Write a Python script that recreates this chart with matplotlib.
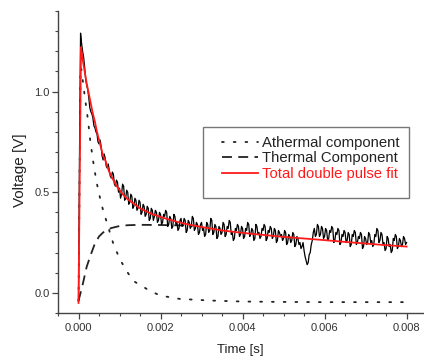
import numpy as np
import matplotlib
matplotlib.use("Agg")
import matplotlib.pyplot as plt
from matplotlib.patches import Rectangle
from matplotlib.ticker import MultipleLocator, FormatStrFormatter

plt.rcParams['font.family'] = ['Liberation Sans', 'DejaVu Sans']

# Measured signal, sampled every 25 us from 0 to 8 ms
t_data = np.linspace(0, 0.008, 321)
v_data = [
    -0.04, 0.70, 1.29, 1.24, 1.20, 1.17, 1.12, 1.06, 1.03, 1.01, 0.97, 0.92, 0.90, 0.89, 0.87, 0.83, 0.82, 0.80, 0.79, 0.75,
    0.74, 0.76, 0.73, 0.68, 0.66, 0.69, 0.67, 0.63, 0.62, 0.64, 0.61, 0.58, 0.57, 0.60, 0.59, 0.54, 0.53, 0.56, 0.55, 0.50,
    0.52, 0.47, 0.49, 0.54, 0.53, 0.46, 0.47, 0.51, 0.50, 0.44, 0.45, 0.49, 0.48, 0.42, 0.43, 0.47, 0.46, 0.41, 0.42, 0.46,
    0.45, 0.39, 0.40, 0.44, 0.43, 0.38, 0.39, 0.43, 0.42, 0.36, 0.37, 0.42, 0.41, 0.36, 0.38, 0.41, 0.40, 0.35, 0.36, 0.40,
    0.39, 0.34, 0.35, 0.39, 0.38, 0.41, 0.40, 0.33, 0.34, 0.38, 0.37, 0.32, 0.33, 0.39, 0.38, 0.34, 0.35, 0.31, 0.32, 0.36,
    0.37, 0.33, 0.34, 0.37, 0.36, 0.30, 0.31, 0.36, 0.35, 0.32, 0.33, 0.38, 0.37, 0.31, 0.32, 0.35, 0.34, 0.29, 0.30, 0.34,
    0.35, 0.31, 0.32, 0.28, 0.29, 0.35, 0.34, 0.30, 0.31, 0.37, 0.36, 0.29, 0.30, 0.34, 0.33, 0.27, 0.28, 0.33, 0.32, 0.29,
    0.30, 0.35, 0.34, 0.28, 0.29, 0.33, 0.32, 0.36, 0.35, 0.29, 0.30, 0.26, 0.27, 0.32, 0.31, 0.34, 0.33, 0.28, 0.29, 0.33,
    0.32, 0.27, 0.28, 0.32, 0.31, 0.35, 0.34, 0.28, 0.29, 0.32, 0.31, 0.26, 0.27, 0.34, 0.33, 0.29, 0.30, 0.27, 0.28, 0.32,
    0.31, 0.34, 0.33, 0.26, 0.27, 0.31, 0.30, 0.33, 0.32, 0.27, 0.28, 0.32, 0.31, 0.25, 0.26, 0.31, 0.30, 0.28, 0.29, 0.26,
    0.27, 0.31, 0.30, 0.24, 0.25, 0.29, 0.28, 0.25, 0.26, 0.30, 0.29, 0.23, 0.24, 0.28, 0.27, 0.24, 0.25, 0.22, 0.23, 0.25,
    0.21, 0.18, 0.16, 0.14, 0.15, 0.19, 0.20, 0.24, 0.26, 0.30, 0.32, 0.28, 0.29, 0.34, 0.33, 0.28, 0.29, 0.33, 0.32, 0.27,
    0.28, 0.32, 0.31, 0.26, 0.27, 0.31, 0.30, 0.33, 0.32, 0.25, 0.26, 0.30, 0.29, 0.32, 0.31, 0.24, 0.25, 0.29, 0.28, 0.31,
    0.30, 0.25, 0.26, 0.30, 0.29, 0.23, 0.24, 0.29, 0.28, 0.31, 0.30, 0.24, 0.25, 0.28, 0.27, 0.30, 0.29, 0.22, 0.23, 0.28,
    0.27, 0.24, 0.25, 0.30, 0.29, 0.25, 0.26, 0.23, 0.24, 0.29, 0.28, 0.32, 0.31, 0.25, 0.26, 0.30, 0.29, 0.24, 0.25, 0.21,
    0.22, 0.28, 0.27, 0.23, 0.24, 0.20, 0.21, 0.27, 0.26, 0.29, 0.28, 0.22, 0.23, 0.27, 0.26, 0.23, 0.24, 0.28, 0.27, 0.24,
    0.25,
]

# Athermal component (dotted)
t_ath = [0.0, 0.00005, 0.00007, 0.00015, 0.00023, 0.00029, 0.00036, 0.00044,
         0.00054, 0.0006, 0.00072, 0.00084, 0.001, 0.00117, 0.00133, 0.00166,
         0.00198, 0.00247, 0.0032, 0.004, 0.005, 0.006, 0.007, 0.008]
v_ath = [-0.04, 1.12, 1.11, 0.98, 0.86, 0.75, 0.65, 0.55,
         0.457, 0.41, 0.33, 0.25, 0.17, 0.11, 0.06, 0.02,
         -0.013, -0.03, -0.038, -0.043, -0.045, -0.046, -0.046, -0.046]

# Thermal component (dashed)
t_th = [0.0, 0.0001, 0.0002, 0.0003, 0.0004, 0.0005, 0.0006, 0.0007,
        0.0008, 0.001, 0.0012, 0.0015, 0.002, 0.0025, 0.0028]
v_th = [-0.04, 0.04, 0.13, 0.19, 0.245, 0.28, 0.30, 0.313,
        0.322, 0.332, 0.336, 0.338, 0.337, 0.335, 0.334]

# Total double pulse fit (red)
t_fit = [0.0, 0.00006, 0.0001, 0.00015, 0.0002, 0.00025, 0.0003, 0.00035,
         0.0004, 0.00045, 0.0005, 0.00055, 0.0006, 0.00065, 0.0007, 0.00075,
         0.0008, 0.00085, 0.0009, 0.00095, 0.001, 0.0011, 0.0012, 0.0013,
         0.0014, 0.0015, 0.0016, 0.0017, 0.0018, 0.0019, 0.002, 0.0022,
         0.0024, 0.0026, 0.0028, 0.003, 0.0035, 0.004, 0.0045, 0.005,
         0.0055, 0.006, 0.0065, 0.007, 0.0075, 0.008]
v_fit = [-0.05, 1.22, 1.16, 1.10, 1.04, 0.99, 0.94, 0.89,
         0.85, 0.80, 0.76, 0.72, 0.68, 0.66, 0.63, 0.60,
         0.58, 0.56, 0.54, 0.525, 0.51, 0.485, 0.465, 0.45,
         0.435, 0.42, 0.41, 0.40, 0.39, 0.385, 0.377, 0.365,
         0.353, 0.343, 0.335, 0.327, 0.31, 0.298, 0.288, 0.278,
         0.27, 0.262, 0.253, 0.245, 0.237, 0.23]

fig = plt.figure(figsize=(4.24, 3.61), dpi=100)
ax = fig.add_axes([58 / 424, 48 / 361, 365 / 424, 302 / 361])

l1, = ax.plot(t_ath, v_ath, color='#222222', lw=1.3, linestyle=(0, (1, 5.5)),
              dash_capstyle='round', label='Athermal component', zorder=2)
l2, = ax.plot(t_th, v_th, color='#222222', lw=1.3, linestyle=(0, (5.5, 3.5)),
              label='Thermal Component', zorder=2)
ax.plot(t_data, v_data, color='black', lw=0.9, zorder=3)
l3, = ax.plot(t_fit, v_fit, color='#ff1a1a', lw=1.3, label='Total double pulse fit', zorder=4)

ax.set_xlim(-0.0005, 0.0084)
ax.set_ylim(-0.1, 1.4)

for s in ['top', 'right']:
    ax.spines[s].set_visible(False)
for s in ['left', 'bottom']:
    ax.spines[s].set_color('#444444')
    ax.spines[s].set_linewidth(1.0)

ax.set_xticks([0.0, 0.002, 0.004, 0.006, 0.008])
ax.xaxis.set_minor_locator(MultipleLocator(0.0005))
ax.xaxis.set_major_formatter(FormatStrFormatter('%.3f'))
ax.set_yticks([0.0, 0.5, 1.0])
ax.yaxis.set_minor_locator(MultipleLocator(0.1))
ax.yaxis.set_major_formatter(FormatStrFormatter('%.1f'))
ax.tick_params(which='major', direction='out', length=4.5, width=0.9, color='#444444',
               labelsize=8, labelcolor='#333333')
ax.tick_params(which='minor', direction='out', length=2.5, width=0.8, color='#444444')
ax.tick_params(axis='x', pad=3)
ax.tick_params(axis='y', pad=1.5)

ax.set_xlabel('Time [s]', fontsize=9.5, color='#222222')
ax.set_ylabel('Voltage [V]', fontsize=11, color='#222222')
ax.xaxis.set_label_coords(0.5, -0.1225)
ax.xaxis.label.set_va('center')
ax.yaxis.set_label_coords(-0.104, 0.473)
ax.yaxis.label.set_va('center')

leg = fig.legend(handles=[l1, l2, l3], loc='upper left', frameon=False,
                 bbox_to_anchor=(222 / 424, 1 - 136 / 361), bbox_transform=fig.transFigure,
                 borderpad=0, borderaxespad=0, fontsize=10.7, handlelength=2.4,
                 handletextpad=0.3, labelspacing=0.1)
for txt, c in zip(leg.get_texts(), ['#222222', '#222222', '#ff1a1a']):
    txt.set_color(c)
fig.patches.append(Rectangle((203 / 424, 1 - 198 / 361), 206 / 424, 71 / 361,
                             transform=fig.transFigure, fill=False,
                             edgecolor='#777777', lw=1.0))

fig.savefig('out.png', dpi=100)
